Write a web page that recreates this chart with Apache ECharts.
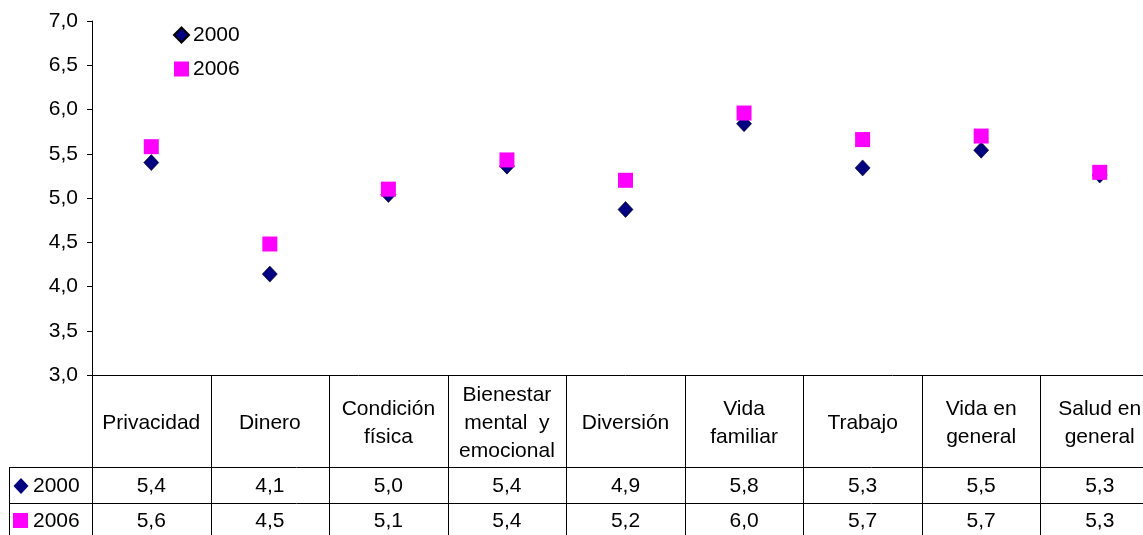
<!DOCTYPE html>
<html>
<head>
<meta charset="utf-8">
<script src="https://cdn.jsdelivr.net/npm/echarts@6/dist/echarts.min.js"></script>
<style>
  html, body { margin: 0; padding: 0; background: #fff; overflow: hidden; }
  #chart { width: 1159px; height: 535px; }
</style>
</head>
<body>
<div id="chart"></div>
<script>
// categories (header row of the table)
var categories = ['Privacidad', 'Dinero', 'Condición\nfísica', 'Bienestar\nmental  y\nemocional', 'Diversión', 'Vida\nfamiliar', 'Trabajo', 'Vida en\ngeneral', 'Salud en\ngeneral'];
// plotted values
var values2000 = [5.40, 4.14, 5.04, 5.36, 4.87, 5.84, 5.34, 5.54, 5.26];
var values2006 = [5.58, 4.48, 5.10, 5.43, 5.20, 5.96, 5.66, 5.70, 5.29];
// values printed in the data table
var table2000 = ['5,4', '4,1', '5,0', '5,4', '4,9', '5,8', '5,3', '5,5', '5,3'];
var table2006 = ['5,6', '4,5', '5,1', '5,4', '5,2', '6,0', '5,7', '5,7', '5,3'];
var seriesNames = ['2000', '2006'];
var yTicks = [3, 7, 0.5]; // min, max, step

var font = 'Liberation Sans, Arial, sans-serif';
var navy = '#000080', magenta = '#ff00ff';

var myChart = echarts.init(document.getElementById('chart'));

var option = {
  animation: false,
  backgroundColor: '#fff',
  grid: { left: 92, top: 21, right: 0, bottom: 160 },
  legend: {
    orient: 'vertical',
    left: 168,
    top: 19,
    itemWidth: 15,
    itemHeight: 15,
    itemGap: 12,
    textStyle: { fontFamily: font, fontSize: 21, color: '#000', lineHeight: 22, padding: [0, 0, 0, -1] },
    data: [
      { name: seriesNames[0], icon: 'diamond' },
      { name: seriesNames[1], icon: 'rect' }
    ]
  },
  xAxis: {
    type: 'category',
    data: categories,
    boundaryGap: true,
    axisLine: { show: true, lineStyle: { color: '#000', width: 1 } },
    axisTick: { show: false },
    axisLabel: { show: false },
    splitLine: { show: false }
  },
  yAxis: {
    type: 'value',
    min: yTicks[0],
    max: yTicks[1],
    interval: yTicks[2],
    axisLine: { show: true, lineStyle: { color: '#000', width: 1 } },
    axisTick: { show: true, length: 5, lineStyle: { color: '#000' } },
    splitLine: { show: false },
    axisLabel: {
      fontFamily: font,
      fontSize: 21,
      color: '#000',
      margin: 14,
      formatter: function (v) { return v.toFixed(1).replace('.', ','); }
    }
  },
  series: [
    {
      name: seriesNames[0],
      type: 'scatter',
      symbol: 'diamond',
      symbolSize: [15, 16],
      itemStyle: { color: navy, opacity: 1, borderColor: '#000', borderWidth: 0.6 },
      data: values2000
    },
    {
      name: seriesNames[1],
      type: 'scatter',
      symbol: 'rect',
      symbolSize: 15,
      itemStyle: { color: magenta, opacity: 1 },
      data: values2006
    }
  ]
};
myChart.setOption(option);

// data table under the plot
function drawTable() {
  var els = [];
  var c0 = myChart.convertToPixel({ xAxisIndex: 0 }, 0);
  var c1 = myChart.convertToPixel({ xAxisIndex: 0 }, 1);
  var w = c1 - c0;
  var top = myChart.convertToPixel({ yAxisIndex: 0 }, yTicks[0]);
  var row1 = top + 92, row2 = row1 + 36, bottom = 545;
  var left = c0 - w / 2;
  var tableLeft = 9;
  var line = { stroke: '#000', lineWidth: 1 };
  var cellFont = '21px ' + font;

  for (var i = 0; i <= categories.length; i++) {
    var x = Math.round(left + i * w) + 0.5;
    els.push({ type: 'line', shape: { x1: x, y1: top, x2: x, y2: bottom }, style: line, silent: true });
  }
  els.push({ type: 'line', shape: { x1: tableLeft + 0.5, y1: row1, x2: tableLeft + 0.5, y2: bottom }, style: line, silent: true });
  [row1, row2].forEach(function (y) {
    els.push({ type: 'line', shape: { x1: tableLeft, y1: Math.round(y) + 0.5, x2: 1159, y2: Math.round(y) + 0.5 }, style: line, silent: true });
  });

  categories.forEach(function (c, i) {
    var cx = myChart.convertToPixel({ xAxisIndex: 0 }, i);
    els.push({
      type: 'text', silent: true,
      style: { x: cx, y: (top + row1) / 2 + 2, text: c, align: 'center', verticalAlign: 'middle',
        font: cellFont, fill: '#000', lineHeight: 28 }
    });
    els.push({
      type: 'text', silent: true,
      style: { x: cx, y: (row1 + row2) / 2 + 1, text: table2000[i], align: 'center', verticalAlign: 'middle',
        font: cellFont, fill: '#000' }
    });
    els.push({
      type: 'text', silent: true,
      style: { x: cx, y: row2 + 18, text: table2006[i], align: 'center', verticalAlign: 'middle',
        font: cellFont, fill: '#000' }
    });
  });

  // series keys in the left column
  var ky1 = (row1 + row2) / 2 + 1, ky2 = row2 + 18;
  els.push({ type: 'polygon', silent: true, shape: { points: [[21, ky1 - 8], [28.5, ky1], [21, ky1 + 8], [13.5, ky1]] }, style: { fill: navy } });
  els.push({ type: 'text', silent: true, style: { x: 33, y: ky1, text: seriesNames[0], verticalAlign: 'middle', font: cellFont, fill: '#000' } });
  els.push({ type: 'rect', silent: true, shape: { x: 13, y: ky2 - 8, width: 15, height: 15 }, style: { fill: magenta } });
  els.push({ type: 'text', silent: true, style: { x: 33, y: ky2, text: seriesNames[1], verticalAlign: 'middle', font: cellFont, fill: '#000' } });

  myChart.setOption({ graphic: { elements: els } });
}
drawTable();
</script>
</body>
</html>
